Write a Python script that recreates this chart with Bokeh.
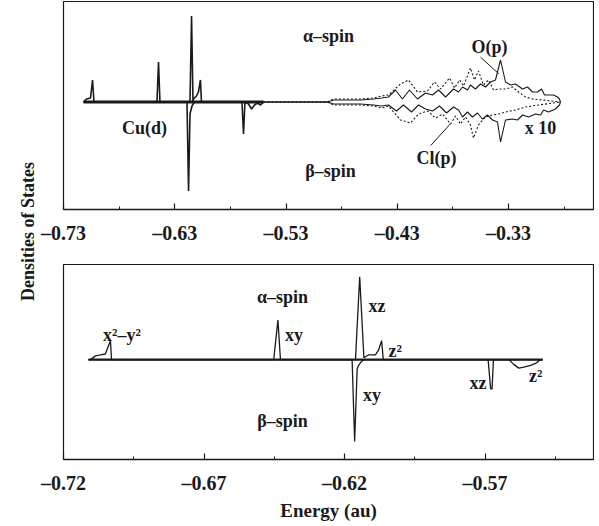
import math
from bokeh.plotting import figure
from bokeh.models import Label, FixedTicker, Range1d
from bokeh.layouts import row, column
from bokeh.embed import file_html
from bokeh.resources import INLINE

FONT = "Liberation Serif"
INK = "#1a1a1a"

# ---------------- data: top panel (energy in au, DOS arbitrary units) ----------------
top_ticks = [-0.73, -0.63, -0.53, -0.43, -0.33]
top_minor = [-0.68, -0.58, -0.48, -0.38, -0.28]
top_tick_labels = ["–0.73", "–0.63", "–0.53", "–0.43", "–0.33"]

cu_alpha_e = [-0.7120, -0.7093, -0.7057, -0.7039, -0.7026, -0.6460, -0.6446, -0.6433,
              -0.6163, -0.6149, -0.6136, -0.6132, -0.6105, -0.6087, -0.6069, -0.6060, -0.5502]
cu_alpha_v = [0, 3, 4, 22, 0, 0, 40, 0,
              0, 86, 0, 3, 6, 10, 22, 0, 0]

cu_beta_e = [-0.7120, -0.6190, -0.6176, -0.6163, -0.6145, -0.6123, -0.5696, -0.5682,
             -0.5669, -0.5637, -0.5610, -0.5583, -0.5556, -0.5529, -0.5502]
cu_beta_v = [0, 0, -89, -12, -4, 0, 0, -32,
             0, -2, -7, -3, -1, -3, 0]

o_alpha_e = [-0.5502, -0.4927, -0.4873, -0.4765, -0.4630, -0.4513, -0.4442, -0.4379,
             -0.4316, -0.4253, -0.4190, -0.4118, -0.4046, -0.3983, -0.3929, -0.3866,
             -0.3794, -0.3749, -0.3713, -0.3669, -0.3642, -0.3597, -0.3552, -0.3507,
             -0.3462, -0.3417, -0.3372, -0.3327, -0.3282, -0.3237, -0.3174, -0.3129,
             -0.3084, -0.3039, -0.3003, -0.2976, -0.2940, -0.2896, -0.2860, -0.2842, -0.2833]
o_alpha_v = [0, 0, 2, 2, 2, 3, 4, 5,
             12, 3, 12, 3, 9, 7, 12, 5,
             13, 10, 15, 12, 17, 13, 18, 15,
             20, 22, 42, 20, 17, 18, 13, 15,
             10, 10, 13, 7, 7, 7, 5, 3, 0]

cl_alpha_e = [-0.5502, -0.4927, -0.4873, -0.4765, -0.4630, -0.4513, -0.4442, -0.4379,
              -0.4271, -0.4199, -0.4118, -0.4028, -0.3965, -0.3911, -0.3830, -0.3785,
              -0.3740, -0.3704, -0.3642, -0.3606, -0.3570, -0.3525, -0.3480, -0.3435,
              -0.3390, -0.3327, -0.3264, -0.3210, -0.3147, -0.3084, -0.2994, -0.2833]
cl_alpha_v = [0, 0, 3, 3, 3, 4, 6, 7,
              18, 22, 10, 11, 20, 13, 24, 14,
              22, 16, 34, 22, 31, 17, 22, 12,
              13, 13, 15, 10, 5, 3, 2, 0]

o_beta_e = [-0.5502, -0.4927, -0.4873, -0.4765, -0.4630, -0.4513, -0.4442, -0.4379,
            -0.4307, -0.4244, -0.4172, -0.4109, -0.4046, -0.3983, -0.3920, -0.3857,
            -0.3794, -0.3749, -0.3713, -0.3669, -0.3624, -0.3579, -0.3534, -0.3489,
            -0.3444, -0.3399, -0.3372, -0.3327, -0.3264, -0.3219, -0.3174, -0.3120,
            -0.3057, -0.3012, -0.2985, -0.2940, -0.2878, -0.2842, -0.2833]
o_beta_v = [0, 0, -2, -2, -2, -3, -4, -3,
            -9, -3, -10, -3, -7, -9, -4, -11,
            -5, -8, -15, -10, -15, -11, -17, -13,
            -18, -20, -40, -18, -17, -18, -13, -15,
            -12, -13, -8, -10, -7, -3, 0]

cl_beta_e = [-0.5502, -0.4927, -0.4873, -0.4765, -0.4630, -0.4513, -0.4442, -0.4379,
             -0.4271, -0.4181, -0.4109, -0.4028, -0.3956, -0.3893, -0.3821, -0.3776,
             -0.3732, -0.3686, -0.3642, -0.3615, -0.3570, -0.3507, -0.3444, -0.3390,
             -0.3327, -0.3237, -0.3147, -0.3030, -0.2833]
cl_beta_v = [0, 0, -3, -3, -3, -4, -6, -4,
             -18, -21, -12, -9, -16, -12, -22, -14,
             -22, -15, -23, -36, -23, -15, -13, -12,
             -10, -8, -5, -3, 0]

top_texts = ["α–spin", "β–spin", "Cu(d)", "O(p)", "Cl(p)", "x 10"]
top_text_e = [-0.4918, -0.4900, -0.6572, -0.3470, -0.3947, -0.3012]
top_text_v = [66.5, -68.5, -25.5, 55.5, -55.5, -25.5]

# ---------------- data: bottom panel ----------------
bot_ticks = [-0.72, -0.67, -0.62, -0.57]
bot_minor = [-0.695, -0.645, -0.595, -0.545]
bot_tick_labels = ["–0.72", "–0.67", "–0.62", "–0.57"]

d_alpha_e = [-0.7111, -0.7104, -0.7086, -0.7068, -0.7051, -0.7033, -0.7029,
             -0.6452, -0.6437, -0.6428,
             -0.6161, -0.6146, -0.6131, -0.6115, -0.6090, -0.6079, -0.6068, -0.6062, -0.5495]
d_alpha_v = [0, 0, 4, 5, 6, 20, 0,
             0, 42, 0,
             0, 88, 2, 5, 5, 10, 20, 0, 0]

d_beta_e = [-0.7111, -0.6173, -0.6164, -0.6155, -0.6150, -0.6140, -0.6129,
            -0.5689, -0.5680, -0.5675, -0.5670,
            -0.5615, -0.5598, -0.5580, -0.5562, -0.5538, -0.5520, -0.5503, -0.5495]
d_beta_v = [0, 0, -87, -10, -6, -2, 0,
            0, -31, -31, 0,
            0, -5, -9, -8, -6, -4, 0, 0]

bot_texts = ["α–spin", "β–spin", "x²–y²", "xy", "xz", "z²", "xy", "xz", "z²"]
bot_text_e = [-0.6421, -0.6421, -0.6992, -0.6380, -0.6084, -0.6020, -0.6102, -0.5725, -0.5520]
bot_text_v = [66, -65, 26, 26, 57, 9, -38, -25, -17]


def style_panel(p, ticks, minor, labels):
    p.toolbar_location = None
    p.grid.visible = False
    p.yaxis.visible = False
    p.outline_line_color = INK
    p.outline_line_width = 1.2
    p.background_fill_color = "white"
    p.border_fill_color = "white"
    ax = p.xaxis[0]
    ax.ticker = FixedTicker(ticks=ticks, minor_ticks=minor)
    ax.major_label_overrides = {t: l for t, l in zip(ticks, labels)}
    ax.axis_line_color = INK
    ax.axis_line_width = 1.5
    ax.major_tick_in = 6
    ax.major_tick_out = 0
    ax.minor_tick_in = 3
    ax.minor_tick_out = 0
    ax.major_tick_line_color = INK
    ax.minor_tick_line_color = INK
    ax.major_tick_line_width = 1.2
    ax.major_label_text_font = FONT
    ax.major_label_text_font_style = "bold"
    ax.major_label_text_font_size = "20px"
    ax.major_label_text_color = INK
    ax.major_label_standoff = 12


def add_texts(p, texts, xs, ys):
    for t, x, y in zip(texts, xs, ys):
        p.add_layout(Label(x=x, y=y, text=t, text_font=FONT, text_font_style="bold",
                           text_font_size="18px", text_color=INK,
                           text_align="center", text_baseline="middle"))


W = 558

# ---------------- top panel ----------------
top = figure(width=W, height=250, output_backend="svg", toolbar_location=None,
             x_range=Range1d(-0.73, -0.2536), y_range=Range1d(-107.5, 100.5),
             min_border_left=27, min_border_right=1, min_border_top=1, min_border_bottom=41)
style_panel(top, top_ticks, top_minor, top_tick_labels)

top.line([cu_alpha_e[0], cu_alpha_e[-1]], [0, 0], line_color=INK, line_width=3)
top.line(o_alpha_e, o_alpha_v, line_color=INK, line_width=1.1)
top.line(o_beta_e, o_beta_v, line_color=INK, line_width=1.1)
top.line(cl_alpha_e, cl_alpha_v, line_color=INK, line_width=1.1, line_dash="2 2")
top.line(cl_beta_e, cl_beta_v, line_color=INK, line_width=1.1, line_dash="2 2")
top.line(cu_alpha_e, cu_alpha_v, line_color=INK, line_width=1.6)
top.line(cu_beta_e, cu_beta_v, line_color=INK, line_width=1.6)
# leader lines
top.line([-0.3552, -0.3387], [44.8, 28.2], line_color=INK, line_width=1)
top.line([-0.3999, -0.3822], [-43.5, -21.8], line_color=INK, line_width=1)
add_texts(top, top_texts, top_text_e, top_text_v)

# ---------------- bottom panel ----------------
bot = figure(width=W, height=273, output_backend="svg", toolbar_location=None,
             x_range=Range1d(-0.72, -0.5314), y_range=Range1d(-106, 101),
             min_border_left=27, min_border_right=1, min_border_top=14, min_border_bottom=52)
style_panel(bot, bot_ticks, bot_minor, bot_tick_labels)
bot.xaxis.axis_label = "Energy (au)"
bot.xaxis.axis_label_text_font = FONT
bot.xaxis.axis_label_text_font_style = "bold"
bot.xaxis.axis_label_text_font_size = "19px"
bot.xaxis.axis_label_text_color = INK
bot.xaxis.axis_label_standoff = 3

bot.line([d_alpha_e[0], d_alpha_e[-1]], [0, 0], line_color=INK, line_width=2.2)
bot.line(d_alpha_e, d_alpha_v, line_color=INK, line_width=1.3)
bot.line(d_beta_e, d_beta_v, line_color=INK, line_width=1.3)
add_texts(bot, bot_texts, bot_text_e, bot_text_v)

# ---------------- shared y-axis title ----------------
lab = figure(width=36, height=523, output_backend="svg", toolbar_location=None,
             x_range=Range1d(0, 36), y_range=Range1d(0, 523),
             min_border_left=0, min_border_right=0, min_border_top=0, min_border_bottom=0)
lab.axis.visible = False
lab.grid.visible = False
lab.outline_line_color = None
lab.add_layout(Label(x=27, y=292, text="Densities of States", angle=math.pi / 2,
                     text_font=FONT, text_font_style="bold", text_font_size="18px",
                     text_color=INK, text_align="center", text_baseline="middle"))

layout = row(lab, column(top, bot))
open("out.html", "w").write(file_html(layout, INLINE))
